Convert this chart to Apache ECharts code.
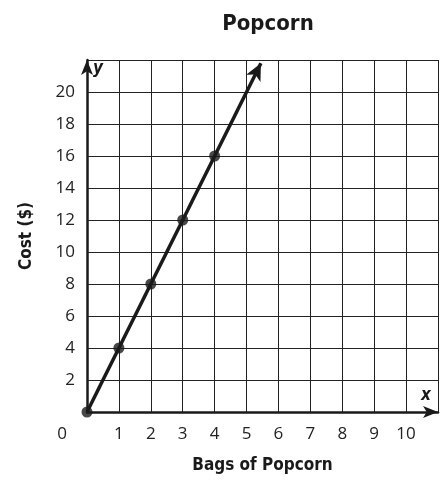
<!DOCTYPE html>
<html>
<head>
<meta charset="utf-8">
<script src="https://cdn.jsdelivr.net/npm/echarts@6/dist/echarts.min.js"></script>
<style>
  html, body { margin: 0; padding: 0; background: #fff; }
  #chart { width: 441px; height: 482px; }
</style>
</head>
<body>
<div id="chart"></div>
<script>
// data points on the line
var bags = [0, 1, 2, 3, 4];
var cost = [0, 4, 8, 12, 16];
// where the arrowhead of the line ends
var lineEnd = [5.45, 21.8];

var labelFont = '"Open Sans", "Noto Sans", sans-serif';
var boldFont = '"DejaVu Sans Condensed", "Liberation Sans Narrow", sans-serif';

var chart = echarts.init(document.getElementById('chart'));
var option = {
  backgroundColor: '#ffffff',
  animation: false,
  title: {
    text: 'Popcorn',
    left: 263,
    top: 8,
    textAlign: 'center',
    textStyle: { fontFamily: boldFont, fontWeight: 'bold', fontSize: 22, color: '#1a1a1a' }
  },
  grid: { left: 87, right: 2, top: 60, bottom: 70 },
  xAxis: {
    type: 'value',
    min: 0, max: 11, interval: 1,
    name: 'Bags of Popcorn',
    nameLocation: 'middle',
    nameGap: 45,
    nameTextStyle: { fontFamily: boldFont, fontWeight: 'bold', fontSize: 17, color: '#1a1a1a' },
    axisLine: { show: true, symbol: ['none', 'arrow'], symbolSize: [9, 15], lineStyle: { color: '#1a1a1a', width: 2.5 } },
    axisTick: { show: false },
    splitLine: { show: true, lineStyle: { color: '#222', width: 1 } },
    axisLabel: {
      margin: 14,
      fontFamily: labelFont, fontSize: 17, color: '#222',
      showMaxLabel: true,
      formatter: function (v) {
        if (v === 11) return '';
        if (v === 0) return '{o|0}';
        return v;
      },
      rich: { o: { fontFamily: labelFont, fontSize: 17, color: '#222', padding: [0, 50, 0, 0] } }
    }
  },
  yAxis: {
    type: 'value',
    min: 0, max: 22, interval: 2,
    name: 'Cost ($)',
    nameLocation: 'middle',
    nameGap: 52,
    nameRotate: 90,
    nameTextStyle: { fontFamily: boldFont, fontWeight: 'bold', fontSize: 17, color: '#1a1a1a' },
    axisLine: { show: true, symbol: ['none', 'arrow'], symbolSize: [9, 15], lineStyle: { color: '#1a1a1a', width: 2.5 } },
    axisTick: { show: false },
    splitLine: { show: true, lineStyle: { color: '#222', width: 1 } },
    axisLabel: {
      margin: 12,
      fontFamily: labelFont, fontSize: 17, color: '#222',
      formatter: function (v) { return (v === 0 || v === 22) ? '' : v; }
    }
  },
  graphic: [
    { type: 'text', left: 93, top: 60, style: { text: 'y', font: 'italic bold 17px ' + boldFont, fill: '#1a1a1a' } },
    { type: 'text', left: 421, top: 387, style: { text: 'x', font: 'italic bold 17px ' + boldFont, fill: '#1a1a1a' } }
  ],
  series: [{
    type: 'scatter',
    data: bags.map(function (b, i) { return [b, cost[i]]; }),
    symbol: 'circle',
    symbolSize: 11,
    itemStyle: { color: '#1a1a1a' },
    z: 5,
    markLine: {
      silent: true,
      symbol: ['none', 'arrow'],
      symbolSize: [12, 17],
      label: { show: false },
      lineStyle: { color: '#1a1a1a', width: 3.5, type: 'solid' },
      data: [[{ coord: [bags[0], cost[0]] }, { coord: lineEnd }]]
    }
  }]
};
chart.setOption(option);
</script>
</body>
</html>
